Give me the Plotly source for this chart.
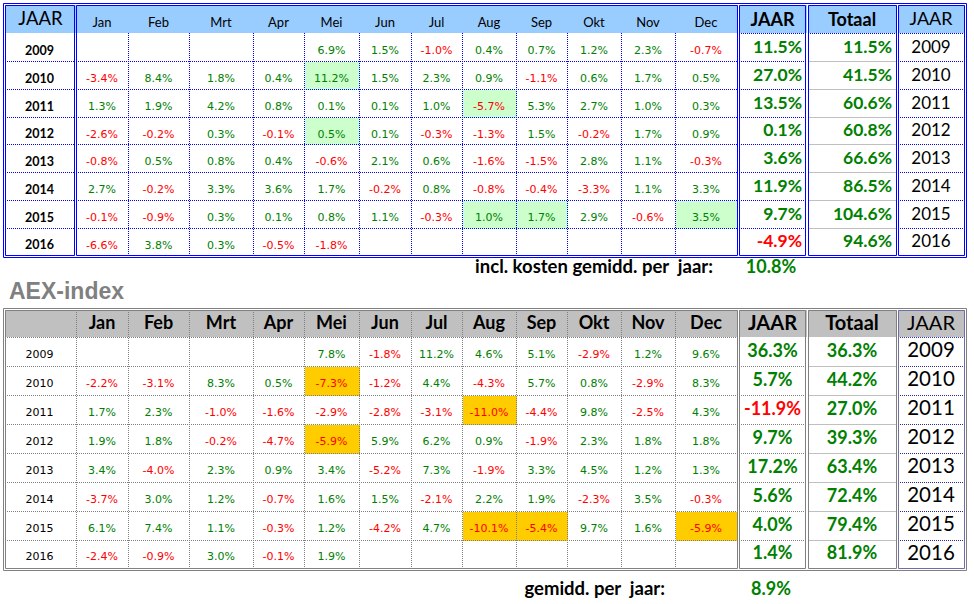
import plotly.graph_objects as go

# ---------------- DATA ----------------
MONTHS = ["Jan", "Feb", "Mrt", "Apr", "Mei", "Jun", "Jul", "Aug", "Sep", "Okt", "Nov", "Dec"]
YEARS = ["2009", "2010", "2011", "2012", "2013", "2014", "2015", "2016"]
N = None
FUND_MONTHLY = [
    [N, N, N, N, 6.9, 1.5, -1.0, 0.4, 0.7, 1.2, 2.3, -0.7],
    [-3.4, 8.4, 1.8, 0.4, 11.2, 1.5, 2.3, 0.9, -1.1, 0.6, 1.7, 0.5],
    [1.3, 1.9, 4.2, 0.8, 0.1, 0.1, 1.0, -5.7, 5.3, 2.7, 1.0, 0.3],
    [-2.6, -0.2, 0.3, -0.1, 0.5, 0.1, -0.3, -1.3, 1.5, -0.2, 1.7, 0.9],
    [-0.8, 0.5, 0.8, 0.4, -0.6, 2.1, 0.6, -1.6, -1.5, 2.8, 1.1, -0.3],
    [2.7, -0.2, 3.3, 3.6, 1.7, -0.2, 0.8, -0.8, -0.4, -3.3, 1.1, 3.3],
    [-0.1, -0.9, 0.3, 0.1, 0.8, 1.1, -0.3, 1.0, 1.7, 2.9, -0.6, 3.5],
    [-6.6, 3.8, 0.3, -0.5, -1.8, N, N, N, N, N, N, N],
]
FUND_YEAR = [11.5, 27.0, 13.5, 0.1, 3.6, 11.9, 9.7, -4.9]
FUND_TOTAL = [11.5, 41.5, 60.6, 60.8, 66.6, 86.5, 104.6, 94.6]
FUND_AVG = 10.8
FUND_HIGHLIGHT = [("2010", "Mei"), ("2011", "Aug"), ("2012", "Mei"),
                  ("2015", "Aug"), ("2015", "Sep"), ("2015", "Dec")]

AEX_MONTHLY = [
    [N, N, N, N, 7.8, -1.8, 11.2, 4.6, 5.1, -2.9, 1.2, 9.6],
    [-2.2, -3.1, 8.3, 0.5, -7.3, -1.2, 4.4, -4.3, 5.7, 0.8, -2.9, 8.3],
    [1.7, 2.3, -1.0, -1.6, -2.9, -2.8, -3.1, -11.0, -4.4, 9.8, -2.5, 4.3],
    [1.9, 1.8, -0.2, -4.7, -5.9, 5.9, 6.2, 0.9, -1.9, 2.3, 1.8, 1.8],
    [3.4, -4.0, 2.3, 0.9, 3.4, -5.2, 7.3, -1.9, 3.3, 4.5, 1.2, 1.3],
    [-3.7, 3.0, 1.2, -0.7, 1.6, 1.5, -2.1, 2.2, 1.9, -2.3, 3.5, -0.3],
    [6.1, 7.4, 1.1, -0.3, 1.2, -4.2, 4.7, -10.1, -5.4, 9.7, 1.6, -5.9],
    [-2.4, -0.9, 3.0, -0.1, 1.9, N, N, N, N, N, N, N],
]
AEX_YEAR = [36.3, 5.7, -11.9, 9.7, 17.2, 5.6, 4.0, 1.4]
AEX_TOTAL = [36.3, 44.2, 27.0, 39.3, 63.4, 72.4, 79.4, 81.9]
AEX_AVG = 8.9
AEX_HIGHLIGHT = [("2010", "Mei"), ("2011", "Aug"), ("2012", "Mei"),
                 ("2015", "Aug"), ("2015", "Sep"), ("2015", "Dec")]

HEAD_LEFT = "JAAR"
HEAD_JAAR = "JAAR"
HEAD_TOT = "Totaal"
FUND_AVG_LABEL = "incl. kosten gemidd. per\u00a0 jaar:"
AEX_TITLE = "AEX-index"
AEX_AVG_LABEL = "gemidd. per\u00a0 jaar:"

# ---------------- LAYOUT CONSTANTS ----------------
W, H = 974, 604
EDGES = [5, 76, 128, 189, 253, 304, 359, 411, 462, 516, 567, 621, 675, 737]
JAAR_X = (739, 806)
TOT_X = (808, 896)
YR_X = (898, 964)
OUTER_X = (3, 966)

TOP = dict(outer=(3, 257), inner=(5, 255), rows=[33, 61, 89, 117, 144, 172, 200, 228, 255])
BOT = dict(outer=(308, 570), inner=(310, 568), rows=[337, 366, 395, 424, 453, 482, 511, 540, 568])

GREEN = "#008000"
RED = "#FF0000"
BLUE = "#0000FF"
GRAY = "#808080"
LGRAY = "#C0C0C0"
PURP = "#6E6EA6"
NAVY = "#2B2B9A"
CAL = "Lato"
TAH = "DejaVu Sans"

shapes = []


def hline(x0, x1, y, color, dash="solid", w=1):
    shapes.append(dict(type="line", x0=x0, x1=x1, y0=y + 0.5, y1=y + 0.5, layer="below",
                       line=dict(color=color, width=w, dash=dash)))


def vline(x, y0, y1, color, dash="solid", w=1):
    shapes.append(dict(type="line", x0=x + 0.5, x1=x + 0.5, y0=y0, y1=y1, layer="below",
                       line=dict(color=color, width=w, dash=dash)))


def box(x0, x1, y0, y1, color):
    shapes.append(dict(type="rect", x0=x0 + 0.5, x1=x1 + 0.5, y0=y0 + 0.5, y1=y1 + 0.5,
                       layer="below", line=dict(color=color, width=1)))


def fill(x0, x1, y0, y1, color):
    shapes.append(dict(type="rect", x0=x0, x1=x1, y0=y0, y1=y1, layer="below",
                       fillcolor=color, line=dict(width=0)))


DOT = "1px,1px"

fig = go.Figure()


def texts(xs, ys, tx, colors, size, family, pos="middle center", weight="normal"):
    fig.add_trace(go.Scatter(x=xs, y=ys, text=tx, mode="text", textposition=pos,
                             textfont=dict(color=colors, size=size, family=family, weight=weight),
                             hoverinfo="skip", showlegend=False, cliponaxis=False))


def fmt(v):
    return f"{v:.1f}%"


def col(v):
    return RED if v < 0 else GREEN


def month_x(j):
    return (EDGES[j + 1] + EDGES[j + 2]) / 2


def build(monthly, yearly, total, highlight, hl_color, T, top):
    rows = T["rows"]
    yi0, yi1 = T["inner"]
    hc = "#99CCFF" if top else LGRAY
    fill(EDGES[0], EDGES[-1] + 1, yi0, rows[0], hc)
    for (a, b) in (JAAR_X, TOT_X, YR_X):
        fill(a, b + 1, yi0, rows[0], hc)
    for (yr, m) in highlight:
        i = YEARS.index(yr)
        j = MONTHS.index(m)
        fill(EDGES[j + 1] + 1, EDGES[j + 2] + 1, rows[i] + 1, rows[i + 1] + 1, hl_color)

    if top:
        dcol = BLUE
        for j in range(1, 12):
            vline(EDGES[j + 1], rows[0], rows[-1], dcol, DOT)
        for r in rows[1:-1]:
            hline(EDGES[0], 74 + 1, r, dcol, DOT)
            hline(EDGES[1], EDGES[-1], r, dcol, DOT)
            hline(JAAR_X[0], JAAR_X[1], r, dcol, DOT)
            hline(TOT_X[0], TOT_X[1], r, LGRAY)
            hline(YR_X[0], YR_X[1], r, dcol, DOT)
        for (a, b) in (JAAR_X, TOT_X, YR_X):
            hline(a, b, rows[0], dcol, DOT)
        box(OUTER_X[0], OUTER_X[1], T["outer"][0], T["outer"][1], BLUE)
        box(EDGES[0], 74, yi0, yi1, BLUE)
        box(EDGES[1], EDGES[-1], yi0, yi1, BLUE)
        box(JAAR_X[0], JAAR_X[1] - 1, yi0, yi1, BLUE)
        box(TOT_X[0], TOT_X[1], yi0, yi1, BLUE)
        box(YR_X[0], YR_X[1], yi0, yi1, BLUE)
    else:
        dcol = GRAY
        for j in range(0, 12):
            vline(EDGES[j + 1], yi0, rows[-1], dcol, DOT)
        hline(EDGES[0], EDGES[-1], rows[0], dcol, DOT)
        hline(YR_X[0], YR_X[1], rows[0], "#3333AA", DOT)
        for r in rows[1:-1]:
            hline(EDGES[0], EDGES[-1], r, dcol, DOT)
            hline(JAAR_X[0], JAAR_X[1], r, dcol, DOT)
            hline(TOT_X[0], TOT_X[1], r, LGRAY)
            hline(YR_X[0], YR_X[1], r, NAVY, DOT)
        box(OUTER_X[0], OUTER_X[1], T["outer"][0], T["outer"][1], GRAY)
        box(EDGES[0], EDGES[-1], yi0, yi1, GRAY)
        box(JAAR_X[0], JAAR_X[1] - 1, yi0, yi1, GRAY)
        box(TOT_X[0], TOT_X[1], yi0, yi1, GRAY)
        box(YR_X[0], YR_X[1], yi0, yi1, PURP)

    # ---- text ----
    rc = [(rows[i] + rows[i + 1]) / 2 for i in range(8)]
    hy = (yi0 + rows[0]) / 2
    if top:
        texts([(EDGES[0] + EDGES[1]) / 2], [hy + 1.5], [HEAD_LEFT], ["black"], 18.5, CAL)
        texts([month_x(j) for j in range(12)], [hy + 4.5] * 12, MONTHS, ["black"] * 12, 13, CAL)
        texts([(JAAR_X[0] + JAAR_X[1]) / 2, (TOT_X[0] + TOT_X[1]) / 2], [hy + 2] * 2,
              [HEAD_JAAR, HEAD_TOT], ["black"] * 2, 18, CAL, weight="bold")
        texts([(YR_X[0] + YR_X[1]) / 2], [hy + 1.5], [HEAD_JAAR], ["black"], 18, CAL)
    else:
        texts([month_x(j) for j in range(12)], [hy + 1] * 12, MONTHS, ["black"] * 12, 18, CAL, weight="bold")
        texts([(JAAR_X[0] + JAAR_X[1]) / 2, (TOT_X[0] + TOT_X[1]) / 2], [hy + 1] * 2,
              [HEAD_JAAR, HEAD_TOT], ["black"] * 2, 20, CAL, weight="bold")
        texts([(YR_X[0] + YR_X[1]) / 2], [hy + 1], [HEAD_JAAR], ["black"], 20, CAL)
    yx = (EDGES[0] + EDGES[1]) / 2 - 1
    if top:
        texts([yx] * 8, [c + 4.5 for c in rc], YEARS, ["black"] * 8, 12.5, CAL, weight="bold")
    else:
        texts([yx] * 8, [c + 3.5 for c in rc], YEARS, ["black"] * 8, 11, TAH)
    xs, ys, tx, cs = [], [], [], []
    for i, row in enumerate(monthly):
        for j, v in enumerate(row):
            if v is None:
                continue
            xs.append(month_x(j))
            ys.append(rc[i] + (4.5 if top else 3.5))
            tx.append(fmt(v))
            cs.append(col(v))
    texts(xs, ys, tx, cs, 11, TAH)
    if top:
        texts([JAAR_X[1] - 4] * 8, [c + 1.5 for c in rc], [fmt(v) for v in yearly],
              [col(v) for v in yearly], 17.5, CAL, pos="middle left", weight="bold")
        texts([TOT_X[1] - 4] * 8, [c + 1.5 for c in rc], [fmt(v) for v in total],
              [col(v) for v in total], 17.5, CAL, pos="middle left", weight="bold")
        texts([(YR_X[0] + YR_X[1]) / 2] * 8, [c + 1.5 for c in rc], YEARS, ["black"] * 8, 17, CAL)
    else:
        texts([(JAAR_X[0] + JAAR_X[1]) / 2] * 8, [c + 0.5 for c in rc], [fmt(v) for v in yearly],
              [col(v) for v in yearly], 18, CAL, weight="bold")
        texts([(TOT_X[0] + TOT_X[1]) / 2] * 8, [c + 0.5 for c in rc], [fmt(v) for v in total],
              [col(v) for v in total], 18, CAL, weight="bold")
        texts([(YR_X[0] + YR_X[1]) / 2] * 8, [c + 0.5 for c in rc], YEARS, ["black"] * 8, 20.5, CAL)


build(FUND_MONTHLY, FUND_YEAR, FUND_TOTAL, FUND_HIGHLIGHT, "#CCFFCC", TOP, True)
build(AEX_MONTHLY, AEX_YEAR, AEX_TOTAL, AEX_HIGHLIGHT, "#FFCC00", BOT, False)

texts([713], [268], [FUND_AVG_LABEL], ["black"], 18.5, CAL, pos="middle left", weight="bold")
texts([771], [268], [fmt(FUND_AVG)], [col(FUND_AVG)], 18, CAL, weight="bold")
texts([9], [293], [AEX_TITLE], [GRAY], 23, "Liberation Sans", pos="middle right", weight="bold")
texts([665], [590], [AEX_AVG_LABEL], ["black"], 18.5, CAL, pos="middle left", weight="bold")
texts([771], [590], [fmt(AEX_AVG)], [col(AEX_AVG)], 18, CAL, weight="bold")

fig.update_layout(
    width=W, height=H, margin=dict(l=0, r=0, t=0, b=0),
    paper_bgcolor="white", plot_bgcolor="white",
    xaxis=dict(range=[0, W], visible=False, fixedrange=True),
    yaxis=dict(range=[H, 0], visible=False, fixedrange=True),
    shapes=shapes, showlegend=False,
)
fig.write_html("out.html", config=dict(displayModeBar=False),
               post_script="document.body.style.margin='0';document.body.style.overflow='hidden';")
